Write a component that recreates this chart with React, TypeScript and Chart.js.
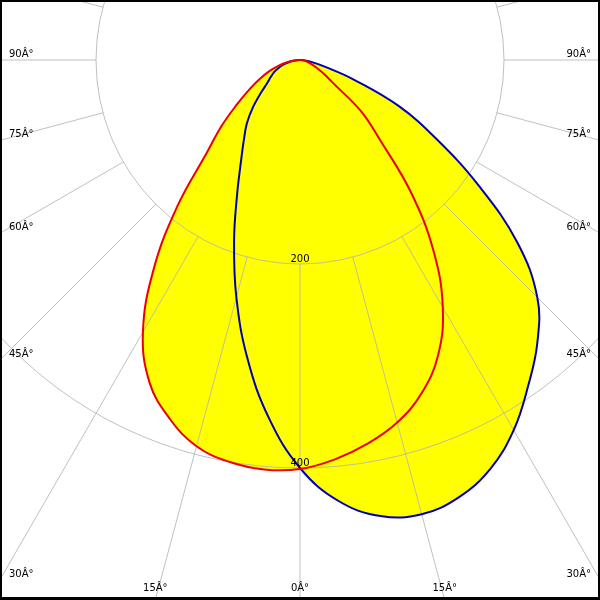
import React, { useEffect, useRef } from "react";
import { Chart, registerables } from "chart.js";

Chart.register(...registerables);

// Gamma angles (degrees from nadir, negative = left half of the diagram)
const angles = [
  -90, -85, -80, -75, -70, -65, -60, -55, -50, -45, -40, -35, -30, -25, -20, -15, -10, -5,
  0, 5, 10, 15, 20, 25, 30, 35, 40, 45, 50, 55, 60, 65, 70, 75, 80, 85, 90,
];

// Luminous intensity, red plane (cd)
const redValues = [
  0, 6, 13, 22, 32, 43, 57, 75, 100, 130, 187, 250, 308, 349, 374, 392, 400, 403,
  401, 393, 382, 368, 348, 320, 280, 228, 169, 111, 78, 40, 27, 18, 12, 8, 5, 2, 0,
];

// Luminous intensity, blue plane (cd)
const blueValues = [
  0, 5, 10, 16, 22, 28, 33, 39, 50, 65, 81, 96, 116, 146, 189, 241, 297, 352,
  400, 434, 454, 461, 456, 442, 419, 390, 362, 329, 278, 213, 154, 107, 56, 25, 12, 5, 0,
];

const circleValues = [200, 400];
const circleLabels = ["200", "400"];
const radialStart = 200;
const angleTicks = [0, 15, 30, 45, 60, 75, 90];
const angleTickLabels = ["0Â°", "15Â°", "30Â°", "45Â°", "60Â°", "75Â°", "90Â°"];

const PX_PER_CD = 1.02;
const W = 600;
const H = 600;
const CX = 300;
const CY = 60;

const rad = (d: number) => (d * Math.PI) / 180;

function toPoints(values: number[]) {
  return values.map((r, i) => ({
    x: r * Math.sin(rad(angles[i])),
    y: -r * Math.cos(rad(angles[i])),
  }));
}

const polarGrid = {
  id: "polarGrid",
  beforeDatasetsDraw(chart: any) {
    const { ctx, scales } = chart;
    const xs = scales.x;
    const ys = scales.y;
    const cx = xs.getPixelForValue(0);
    const cy = ys.getPixelForValue(0);
    const k = xs.getPixelForValue(1) - cx;
    ctx.save();
    ctx.strokeStyle = "rgba(176,176,176,0.8)";
    ctx.lineWidth = 1;
    circleValues.forEach((v) => {
      ctx.beginPath();
      ctx.arc(cx, cy, v * k, 0, Math.PI * 2);
      ctx.stroke();
    });
    for (let a = 0; a < 360; a += 15) {
      const dx = Math.sin(rad(a));
      const dy = Math.cos(rad(a));
      ctx.beginPath();
      ctx.moveTo(cx + dx * radialStart * k, cy + dy * radialStart * k);
      ctx.lineTo(cx + dx * 2000 * k, cy + dy * 2000 * k);
      ctx.stroke();
    }
    ctx.restore();
  },
  afterDatasetsDraw(chart: any) {
    const { ctx, scales, chartArea } = chart;
    const xs = scales.x;
    const ys = scales.y;
    const cx = xs.getPixelForValue(0);
    const cy = ys.getPixelForValue(0);
    const k = xs.getPixelForValue(1) - cx;
    ctx.save();
    ctx.fillStyle = "#000";
    ctx.font = "10px 'DejaVu Sans'";
    ctx.textBaseline = "alphabetic";
    ctx.textAlign = "center";
    circleValues.forEach((v, i) => {
      ctx.fillText(circleLabels[i], cx, cy + v * k - 2);
    });
    const left = chartArea.left;
    const right = chartArea.right;
    const bottom = chartArea.bottom;
    angleTicks.forEach((a, i) => {
      const txt = angleTickLabels[i];
      const sides = a === 0 ? [0] : [-1, 1];
      sides.forEach((s) => {
        const sa = Math.sin(rad(a));
        const ca = Math.cos(rad(a));
        let hitSide = false;
        let yEdge = 0;
        if (sa > 1e-6) {
          const t = (cx - left) / sa;
          yEdge = cy + t * ca;
          hitSide = yEdge < bottom - 8;
        }
        if (hitSide) {
          if (s < 0) {
            ctx.textAlign = "left";
            ctx.fillText(txt, left + 9, yEdge - 3);
          } else {
            ctx.textAlign = "right";
            ctx.fillText(txt, right - 9, yEdge - 3);
          }
        } else {
          const t = (bottom - cy) / ca;
          const xEdge = cx + s * t * sa;
          ctx.textAlign = "center";
          ctx.fillText(txt, xEdge, bottom - 9);
        }
      });
    });
    ctx.restore();
  },
  afterDraw(chart: any) {
    const { ctx } = chart;
    ctx.save();
    ctx.strokeStyle = "#000";
    ctx.lineWidth = 2;
    ctx.strokeRect(1, 1, W - 2, H - 2);
    ctx.fillStyle = "#000";
    ctx.fillRect(0, H - 3, W, 3);
    ctx.restore();
  },
};

export default function App() {
  const ref = useRef<HTMLCanvasElement>(null);
  useEffect(() => {
    if (!ref.current) return;
    const chart = new Chart(ref.current, {
      type: "scatter",
      data: {
        datasets: [
          {
            label: "C0-C180",
            data: toPoints(redValues),
            showLine: true,
            borderColor: "#ee0000",
            borderWidth: 2,
            backgroundColor: "#ffff00",
            fill: "shape",
            pointRadius: 0,
            tension: 0.4,
          },
          {
            label: "C90-C270",
            data: toPoints(blueValues),
            showLine: true,
            borderColor: "#0000b4",
            borderWidth: 2,
            backgroundColor: "#ffff00",
            fill: "shape",
            pointRadius: 0,
            tension: 0.4,
          },
        ],
      },
      options: {
        responsive: false,
        animation: false,
        layout: { padding: 0 },
        scales: {
          x: { type: "linear", display: false, min: -CX / PX_PER_CD, max: (W - CX) / PX_PER_CD },
          y: { type: "linear", display: false, min: -(H - CY) / PX_PER_CD, max: CY / PX_PER_CD },
        },
        plugins: {
          legend: { display: false },
          tooltip: { enabled: false },
          filler: { drawTime: "beforeDatasetsDraw" },
        },
      } as any,
      plugins: [polarGrid],
    });
    return () => chart.destroy();
  }, []);
  return (
    <div style={{ position: "absolute", left: 0, top: 0, width: W, height: H, background: "#fff" }}>
      <canvas ref={ref} width={W} height={H} style={{ display: "block" }} />
    </div>
  );
}
